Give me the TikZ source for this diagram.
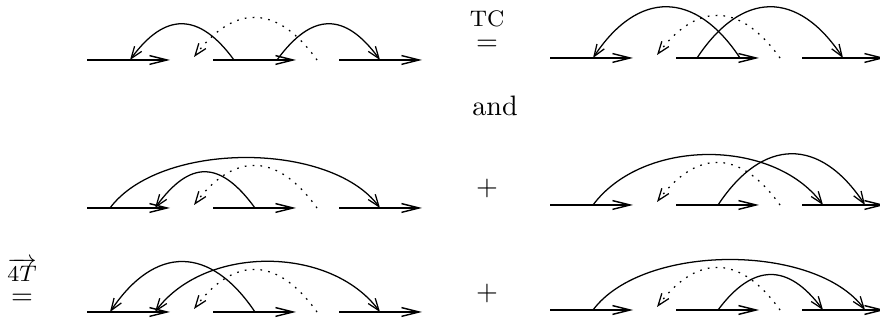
\documentclass[tikz,border=0pt]{standalone}
\usepackage{amsmath}
\usetikzlibrary{arrows.meta}
\tikzset{barb/.tip={Straight Barb[length=1.5mm,width=1.1mm,line width=0.45pt]}}
\begin{document}
\begin{tikzpicture}[
    x=0.0125cm, y=-0.0125cm,
    seg/.style={line width=0.9pt, -{Straight Barb[length=2.2mm,width=1.1mm,line width=0.5pt]}},
    arc/.style={line width=0.45pt, -barb},
    dot/.style={arc, dash pattern=on 0.6pt off 2.2pt},
    sign/.style={inner sep=1pt},
  ]
  \useasboundingbox (0,0) rectangle (880,320);
  % six pictures, three segments each, points named along them
  \foreach \dg/\ox/\oy in {1/87/60, 2/550/58, 3/87/208, 4/550/205, 5/87/312, 6/550/310} {
    \foreach \n/\x/\y in {s1/0/0, t1/83/0, s2/126/0, t2/209/0, s3/252/0, t3/335/0,
        a/23/0, b/43/0, c/68/0, g/107/-3, d/147/0, e/168/0, f/190/0,
        j/230/0, k/273/0, l/293/0, m/315/0}
      \coordinate (d\dg\n) at (\ox+\x,\oy+\y);
    \draw[seg] (d\dg s1) -- (d\dg t1);
    \draw[seg] (d\dg s2) -- (d\dg t2);
    \draw[seg] (d\dg s3) -- (d\dg t3);
    \draw[dot] (d\dg j) .. controls +(-40,-56) and +(40,-53) .. (d\dg g);
  }

  % first row
  \draw[arc] (d1d) .. controls +(-35,-48) and +(35,-48) .. (d1b);
  \draw[arc] (d1f) .. controls +(35,-48) and +(-35,-48) .. (d1l);
  \node[sign] (tc) at (487,29) {$\overset{\raisebox{3pt}{\footnotesize TC}}{=}$};
  \draw[arc] (d2f) .. controls +(-45,-68) and +(45,-68) .. (d2b);
  \draw[arc] (d2d) .. controls +(45,-68) and +(-45,-68) .. (d2l);

  \node (andtxt) at (495,106) {and};

  % second row
  \draw[arc] (d3a) .. controls +(50,-67) and +(-50,-67) .. (d3l);
  \draw[arc] (d3e) .. controls +(-35,-48) and +(35,-48) .. (d3c);
  \node[sign] (plusa) at (487,188) {$+$};
  \draw[arc] (d4b) .. controls +(50,-67) and +(-50,-67) .. (d4k);
  \draw[arc] (d4e) .. controls +(45,-68) and +(-45,-68) .. (d4m);

  % third row
  \node[sign] (fourt) at (22,280) {$\overset{\raisebox{2.5pt}{\footnotesize$\overrightarrow{4T}$}}{=}$};
  \draw[arc] (d5e) .. controls +(-45,-67) and +(45,-67) .. (d5a);
  \draw[arc, barb-barb] (d5c) .. controls +(50,-67) and +(-50,-67) .. (d5l);
  \node[sign] (plusb) at (487,293) {$+$};
  \draw[arc] (d6b) .. controls +(50,-67) and +(-50,-67) .. (d6m);
  \draw[arc] (d6e) .. controls +(35,-47) and +(-35,-47) .. (d6k);
\end{tikzpicture}
\end{document}
